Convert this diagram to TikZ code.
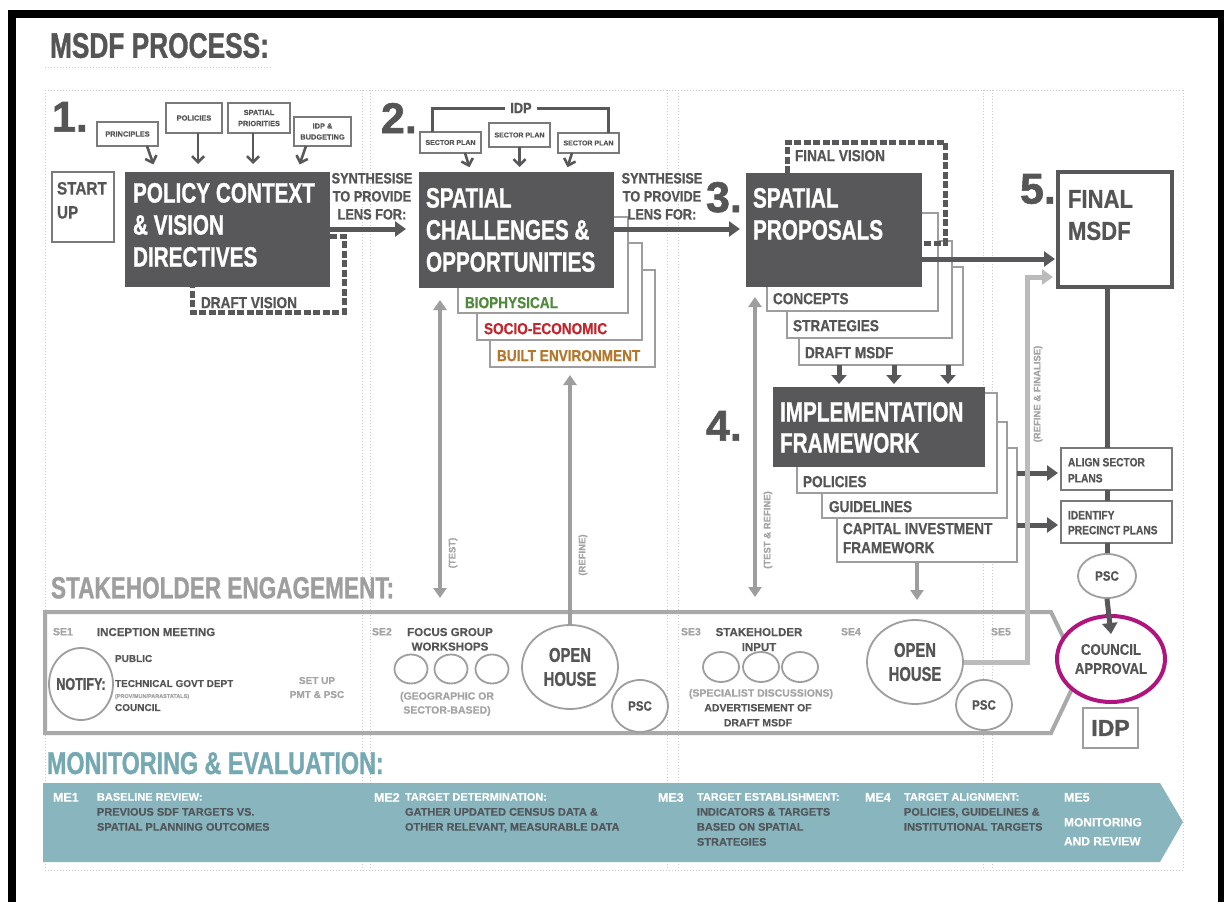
\documentclass[tikz,border=0pt]{standalone}
\usepackage{fontspec}
\setmainfont{Liberation Sans}
\newfontfamily\cnd{Liberation Sans}[UprightFont={* Bold},BoldFont={* Bold},FakeStretch=0.74,FakeBold=1]
\newfontfamily\mdn{Liberation Sans}[UprightFont={* Bold},BoldFont={* Bold},FakeStretch=0.85,FakeBold=0.6]
\newfontfamily\hvy{Liberation Sans}[UprightFont={* Bold},BoldFont={* Bold},FakeBold=1.4]
\newfontfamily\smb{Liberation Sans}[UprightFont={* Bold},BoldFont={* Bold},FakeBold=0.4]
\usetikzlibrary{arrows.meta,shapes.geometric}
\definecolor{dk}{HTML}{58585A}
\definecolor{tx}{HTML}{555555}
\definecolor{lg}{HTML}{9E9E9E}
\definecolor{sbc}{HTML}{7A7A7A}
\definecolor{seb}{HTML}{A9A9A9}
\definecolor{glab}{HTML}{A4A4A4}
\definecolor{rfc}{HTML}{BBBBBB}
\definecolor{dotc}{HTML}{C9C9C9}
\definecolor{band}{HTML}{88B5BE}
\definecolor{tealt}{HTML}{74A8B2}
\definecolor{metx}{HTML}{52575C}
\definecolor{mag}{HTML}{B0157F}
\definecolor{grn}{HTML}{4F8A3C}
\definecolor{rd}{HTML}{C4262E}
\definecolor{org}{HTML}{B5772C}
\begin{document}
\begin{tikzpicture}[x=1pt,y=-1pt,
  t/.style={inner sep=0pt,outer sep=0pt,anchor=north west,text=tx,align=left},
  tc/.style={t,anchor=north,align=center},
  dbox/.style={fill=dk,draw=none,inner sep=0pt,outer sep=0pt,anchor=north west},
  obox/.style={draw=lg,line width=1.2pt,fill=white,inner sep=0pt,outer sep=0pt,anchor=north west},
  sbox/.style={draw=sbc,line width=1.4pt,fill=white,inner sep=0pt,outer sep=0pt,anchor=north west,align=center,text=tx,font=\smb\fontsize{7.4}{11}\selectfont},
  rbox/.style={draw=sbc,line width=1.5pt,fill=white,inner sep=0pt,outer sep=0pt,anchor=north west},
  circ/.style={ellipse,draw=lg,line width=1.8pt,fill=white,inner sep=0pt},
  darr/.style={draw=dk,line width=5pt,-{Triangle[width=15pt,length=11pt]}},
  darrs/.style={draw=dk,line width=5pt,-{Triangle[width=15pt,length=9pt]}},
  sarr/.style={draw=dk,line width=2.6pt,-{Straight Barb[width=12pt,length=6pt]}},
  garr/.style={draw=lg,line width=4.5pt,{Triangle[width=13pt,length=10pt]}-{Triangle[width=13pt,length=10pt]}},
  garrs/.style={draw=lg,line width=4.5pt,-{Triangle[width=13pt,length=10pt]}},
  dloop/.style={draw=dk,line width=5pt,dash pattern=on 7pt off 2.5pt},
  dotl/.style={draw=dotc,line width=1pt,dash pattern=on 1pt off 2pt},
  big/.style={font=\cnd\fontsize{28}{32}\selectfont},
  med/.style={font=\mdn\fontsize{16}{19}\selectfont},
  num/.style={t,font=\hvy\fontsize{43}{43}\selectfont},
  vlab/.style={inner sep=0pt,rotate=90,text=glab,font=\smb\fontsize{9.5}{9.5}\selectfont},
  sel/.style={t,text=glab,font=\smb\fontsize{10.5}{10.5}\selectfont},
  set/.style={t,font=\smb\fontsize{11.5}{14.5}\selectfont},
  me/.style={t,text=metx,font=\smb\fontsize{11}{11}\selectfont},
  mew/.style={me,text=white},
  circt/.style={inner sep=0pt,text=tx,align=center}
]
\useasboundingbox (0,0) rectangle (1224,902);
\fill[white] (0,0) rectangle (1224,902);
% dotted grid
\draw[dotl] (45,67) -- (272,67);
\draw[dotl] (45,90) -- (1183,90);
\draw[dotl] (45,870) -- (1183,870);
\foreach \xx in {45,362,370,667,678,983,992,1183} \draw[dotl] (\xx,90) -- (\xx,870);
% frame
\draw[black,line width=8pt] (12,14) rectangle (1222,940);
% title
\node[t,font=\cnd\fontsize{35.5}{35.5}\selectfont] (title) at (50,33) {MSDF PROCESS:};

% ---------- section 1
\node[num] (n1) at (52,102) {1.};
\node[sbox,minimum width=61pt,minimum height=24pt] (pr) at (97,122) {PRINCIPLES};
\node[sbox,minimum width=56pt,minimum height=30pt] (po) at (166,103) {POLICIES};
\node[sbox,minimum width=62pt,minimum height=30pt] (sp) at (228,103) {SPATIAL\\PRIORITIES};
\node[sbox,minimum width=57pt,minimum height=29pt] (ib) at (294,117) {IDP \&\\BUDGETING};
\node[rbox,minimum width=62pt,minimum height=70pt] (su) at (52,172) {};
\node[t,font=\mdn\fontsize{18}{24}\selectfont] (sut) at (57,182) {START\\UP};
\node[dbox,minimum width=205pt,minimum height=115pt] (pc) at (125,172) {};
\node[t,big,text=white] (pct) at (133,183) {POLICY CONTEXT\\\& VISION\\DIRECTIVES};
\draw[sarr,shorten >=8pt] (147,0 |- pr.south) -- (156,0 |- pc.north);
\draw[sarr,shorten >=8pt] (198,0 |- po.south) -- (198,0 |- pc.north);
\draw[sarr,shorten >=8pt] (253,0 |- sp.south) -- (253,0 |- pc.north);
\draw[sarr,shorten >=8pt] (306,0 |- ib.south) -- (297,0 |- pc.north);
\draw[dloop] (pc.east |- 0,236) -| (344,312) -| (192,0 |- pc.south);
\node[t,med] (dv) at (201,297) {DRAFT VISION};
\node[tc,font=\mdn\fontsize{15}{18}\selectfont] (sy1) at (372,173) {SYNTHESISE\\TO PROVIDE\\LENS FOR:};

% ---------- section 2
\node[num] (n2) at (381,103) {2.};
\node[sbox,font=\smb\fontsize{7}{9}\selectfont,minimum width=61pt,minimum height=21pt] (spl) at (420,132) {SECTOR PLAN};
\node[sbox,font=\smb\fontsize{7}{9}\selectfont,minimum width=61pt,minimum height=24pt] (spm) at (489,123) {SECTOR PLAN};
\node[sbox,font=\smb\fontsize{7}{9}\selectfont,minimum width=61pt,minimum height=20pt] (spr) at (558,133) {SECTOR PLAN};
\node[inner sep=5pt,text=tx,font=\mdn\fontsize{15}{15}\selectfont] (idp) at (521,108) {IDP};
\draw[dk,line width=3pt] (idp.west) -| (432,0 |- spl.north);
\draw[dk,line width=3pt] (idp.east) -| (608,0 |- spr.north);
\node[obox,minimum width=165pt,minimum height=97pt] (b2c) at (490,270) {};
\node[obox,minimum width=165pt,minimum height=97pt] (b2b) at (477,243) {};
\node[obox,minimum width=170pt,minimum height=96pt] (b2a) at (458,217) {};
\node[dbox,minimum width=195pt,minimum height=116pt] (sc) at (419,172) {};
\node[t,big,text=white] (sct) at (426,188) {SPATIAL\\CHALLENGES \&\\OPPORTUNITIES};
\node[t,med,text=grn] (bio) at (465,297) {BIOPHYSICAL};
\node[t,med,text=rd] (soc) at (484,323) {SOCIO-ECONOMIC};
\node[t,med,text=org] (blt) at (497,350) {BUILT ENVIRONMENT};
\draw[sarr,shorten >=5pt] (465,0 |- spl.south) -- (471,0 |- sc.north);
\draw[sarr,shorten >=5pt] (spm.south) -- (spm.south |- sc.north);
\draw[sarr,shorten >=5pt] (572,0 |- spr.south) -- (566,0 |- sc.north);
\draw[darr,shorten >=13pt] (pc.east |- 0,229) -- (sc.west |- 0,229);
\node[tc,font=\mdn\fontsize{15}{18}\selectfont] (sy2) at (662,173) {SYNTHESISE\\TO PROVIDE\\LENS FOR:};

% ---------- section 3
\node[num] (n3) at (706,182) {3.};
\node[obox,minimum width=164pt,minimum height=98pt] (b3c) at (799,267) {};
\node[obox,minimum width=165pt,minimum height=97pt] (b3b) at (787,241) {};
\node[obox,minimum width=171pt,minimum height=98pt] (b3a) at (767,213) {};
\node[dbox,minimum width=176pt,minimum height=114pt] (pp) at (746,173) {};
\node[t,big,text=white] (ppt) at (753,188) {SPATIAL\\PROPOSALS};
\node[t,med] (cpt) at (773,293) {CONCEPTS};
\node[t,med] (str) at (793,320) {STRATEGIES};
\node[t,med] (dms) at (805,347) {DRAFT MSDF};
\draw[dloop] (787,0 |- pp.north) |- (945,142) |- (pp.east |- 0,243);
\node[t,med] (fv) at (795,150) {FINAL VISION};
\draw[darr,shorten >=6pt] (sc.east |- 0,229) -- (pp.west |- 0,229);

% ---------- section 4
\node[num] (n4) at (706,411) {4.};
\node[obox,minimum width=180pt,minimum height=114pt] (b4c) at (837,448) {};
\node[obox,minimum width=185pt,minimum height=96pt] (b4b) at (822,422) {};
\node[obox,minimum width=200pt,minimum height=100pt] (b4a) at (797,393) {};
\node[dbox,minimum width=212pt,minimum height=80pt] (im) at (773,387) {};
\node[t,text=white,font=\cnd\fontsize{28}{31}\selectfont] (imt) at (780,402) {IMPLEMENTATION\\FRAMEWORK};
\node[t,med] (pol) at (803,476) {POLICIES};
\node[t,med] (gui) at (829,501) {GUIDELINES};
\node[t,med] (cif) at (843,523) {CAPITAL INVESTMENT\\FRAMEWORK};
\foreach \xx in {839,894,948} \draw[darrs,shorten >=3pt] (\xx,0 |- b3c.south) -- (\xx,0 |- im.north);

% ---------- section 5
\node[num] (n5) at (1020,174) {5.};
\node[rbox,draw=dk,line width=3.5pt,minimum width=114pt,minimum height=115pt] (fm) at (1058,172) {};
\node[t,font=\mdn\fontsize{26}{32}\selectfont] (fmt) at (1068,190) {FINAL\\MSDF};
\node[rbox,minimum width=111pt,minimum height=42pt] (al) at (1061,448) {};
\node[t,font=\mdn\fontsize{12}{16}\selectfont] (alt) at (1068,458) {ALIGN SECTOR\\PLANS};
\node[rbox,minimum width=111pt,minimum height=42pt] (id) at (1061,501) {};
\node[t,font=\mdn\fontsize{12}{15}\selectfont] (idt) at (1068,511) {IDENTIFY\\PRECINCT PLANS};
\node[circ,minimum width=58pt,minimum height=44pt] (psc5) at (1107,576) {};
\node[circt,font=\mdn\fontsize{13.5}{13.5}\selectfont] (psc5t) at (psc5) {PSC};
\coordinate (vx) at (1107,0);
\draw[dk,line width=5pt] (fm.south -| vx) -- (al.north -| vx);
\draw[dk,line width=5pt] (al.south -| vx) -- (id.north -| vx);
\draw[dk,line width=5pt] (id.south -| vx) -- (psc5.north);
\draw[darr,shorten >=3pt] (pp.east |- 0,259) -- (fm.west |- 0,259);
\draw[darr,shorten >=3pt] (b4c.east |- 0,473) -- (al.west |- 0,473);
\draw[darr,shorten >=3pt] (b4c.east |- 0,525) -- (id.west |- 0,525);

% ---------- stakeholder engagement
\node[t,text=lg,font=\cnd\fontsize{30.5}{30.5}\selectfont] (seh) at (51,577) {STAKEHOLDER ENGAGEMENT:};
\coordinate (seTop) at (0,612);
\draw[seb,line width=4pt,line join=miter] (45,612) -- (1051,612) -- (1080,672) -- (1051,733) -- (45,733) -- cycle;
\node[sel] (se1) at (53,628) {SE1};
\node[set] (se1t) at (97,628) {INCEPTION MEETING};
\node[circ,minimum width=64pt,minimum height=72pt] (nt) at (81,684) {};
\node[circt,font=\cnd\fontsize{17}{17}\selectfont] (ntt) at (nt) {NOTIFY:};
\node[t,font=\smb\fontsize{10}{10}\selectfont] (pub) at (115,655) {PUBLIC};
\node[t,font=\smb\fontsize{10}{10}\selectfont] (tec) at (115,680) {TECHNICAL GOVT DEPT};
\node[t,text=glab,font=\smb\fontsize{5.5}{5.5}\selectfont] (prv) at (115,694) {(PROV/MUN/PARASTATALS)};
\node[t,font=\smb\fontsize{10}{10}\selectfont] (cou) at (115,704) {COUNCIL};
\node[tc,text=glab,font=\smb\fontsize{10}{14}\selectfont] (pmt) at (317,677) {SET UP\\PMT \& PSC};
\node[sel] (se2) at (372,628) {SE2};
\node[tc,font=\smb\fontsize{11.5}{14.5}\selectfont] (fgw) at (450,628) {FOCUS GROUP\\WORKSHOPS};
\node[circ,minimum width=33pt,minimum height=29pt] (fg1) at (411,669) {};
\node[circ,minimum width=33pt,minimum height=29pt] (fg2) at (451,669) {};
\node[circ,minimum width=33pt,minimum height=29pt] (fg3) at (492,669) {};
\node[tc,text=glab,font=\smb\fontsize{10.5}{14}\selectfont] (geo) at (447,692) {(GEOGRAPHIC OR\\SECTOR-BASED)};
\node[circ,minimum width=96pt,minimum height=84pt] (oh1) at (570,667) {};
\node[circt,font=\cnd\fontsize{20}{24}\selectfont] (oh1t) at (oh1) {OPEN\\HOUSE};
\node[circ,minimum width=56pt,minimum height=52pt] (psc1) at (640,706) {};
\node[circt,font=\mdn\fontsize{13.5}{13.5}\selectfont] (psc1t) at (psc1) {PSC};
\node[sel] (se3) at (681,628) {SE3};
\node[tc,font=\smb\fontsize{11.5}{15}\selectfont] (shi) at (759,628) {STAKEHOLDER\\INPUT};
\node[circ,minimum width=36pt,minimum height=30pt] (si1) at (721,667) {};
\node[circ,minimum width=36pt,minimum height=30pt] (si2) at (761,667) {};
\node[circ,minimum width=36pt,minimum height=30pt] (si3) at (800,667) {};
\node[tc,text=glab,font=\smb\fontsize{10.5}{10.5}\selectfont] (spd) at (761,689) {(SPECIALIST DISCUSSIONS)};
\node[tc,font=\smb\fontsize{10.5}{15}\selectfont] (adv) at (758,704) {ADVERTISEMENT OF\\DRAFT MSDF};
\node[sel] (se4) at (841,628) {SE4};
\node[circ,minimum width=96pt,minimum height=84pt] (oh2) at (915,662) {};
\node[circt,font=\cnd\fontsize{20}{24}\selectfont] (oh2t) at (oh2) {OPEN\\HOUSE};
\node[circ,minimum width=56pt,minimum height=50pt] (psc2) at (984,705) {};
\node[circt,font=\mdn\fontsize{13.5}{13.5}\selectfont] (psc2t) at (psc2) {PSC};
\node[sel] (se5) at (991,628) {SE5};

% council + idp
\node[ellipse,draw=mag,line width=4pt,fill=white,inner sep=0pt,minimum width=108pt,minimum height=86pt] (ca) at (1111,659) {};
\node[circt,font=\mdn\fontsize{15.5}{19}\selectfont] (cat) at (ca) {COUNCIL\\APPROVAL};
\draw[darr] (psc5.south) -- ([yshift=-20pt]ca.north);
\node[rbox,draw=lg,minimum width=55pt,minimum height=40pt] (idpb) at (1083,708) {};
\node[circt,font=\hvy\fontsize{23}{23}\selectfont] (idpt) at (idpb) {IDP};

% test / refine connectors
\draw[garr,shorten <=12pt,shorten >=14pt] (440,0 |- sc.south) -- (440,0 |- seTop);
\node[vlab] (lt) at (453,553) {(TEST)};
\draw[garrs,shorten >=8pt] (oh1.north) -- (oh1.north |- b2c.south);
\node[vlab] (lr) at (583,555) {(REFINE)};
\draw[garr,shorten <=10pt,shorten >=15pt] (755,0 |- pp.south) -- (755,0 |- seTop);
\node[vlab] (ltr) at (768,530) {(TEST \& REFINE)};
\draw[garrs,shorten >=12pt] (917,0 |- b4c.south) -- (917,0 |- seTop);
\coordinate (rf) at (1027,277);
\draw[draw=rfc,line width=5pt,-{Triangle[width=15pt,length=11pt]},shorten >=5pt] (oh2.east) -| (rf) -- (fm.west |- rf);
\node[vlab] (lrf) at (1038,394) {(REFINE \& FINALISE)};

% ---------- monitoring & evaluation
\node[t,text=tealt,font=\cnd\fontsize{31.5}{31.5}\selectfont] (meh) at (47,752) {MONITORING \& EVALUATION:};
\fill[band] (43,783) -- (1160,783) -- (1183,822) -- (1160,862) -- (43,862) -- cycle;
\node[mew,font=\smb\fontsize{12.5}{12.5}\selectfont] (me1) at (53,793) {ME1};
\node[mew] (me1a) at (97,793) {BASELINE REVIEW:};
\node[me] (me1b) at (97,808) {PREVIOUS SDF TARGETS VS.};
\node[me] (me1c) at (97,823) {SPATIAL PLANNING OUTCOMES};
\node[mew,font=\smb\fontsize{12.5}{12.5}\selectfont] (me2) at (374,793) {ME2};
\node[mew] (me2a) at (405,793) {TARGET DETERMINATION:};
\node[me] (me2b) at (405,808) {GATHER UPDATED CENSUS DATA \&};
\node[me] (me2c) at (405,823) {OTHER RELEVANT, MEASURABLE DATA};
\node[mew,font=\smb\fontsize{12.5}{12.5}\selectfont] (me3) at (658,793) {ME3};
\node[mew] (me3a) at (697,793) {TARGET ESTABLISHMENT:};
\node[me] (me3b) at (697,808) {INDICATORS \& TARGETS};
\node[me] (me3c) at (697,823) {BASED ON SPATIAL};
\node[me] (me3d) at (697,838) {STRATEGIES};
\node[mew,font=\smb\fontsize{12.5}{12.5}\selectfont] (me4) at (865,793) {ME4};
\node[mew] (me4a) at (904,793) {TARGET ALIGNMENT:};
\node[me] (me4b) at (904,808) {POLICIES, GUIDELINES \&};
\node[me] (me4c) at (904,823) {INSTITUTIONAL TARGETS};
\node[mew,font=\smb\fontsize{12.5}{12.5}\selectfont] (me5) at (1064,793) {ME5};
\node[mew,font=\smb\fontsize{12}{19}\selectfont] (me5a) at (1064,818) {MONITORING\\AND REVIEW};
\end{tikzpicture}
\end{document}
